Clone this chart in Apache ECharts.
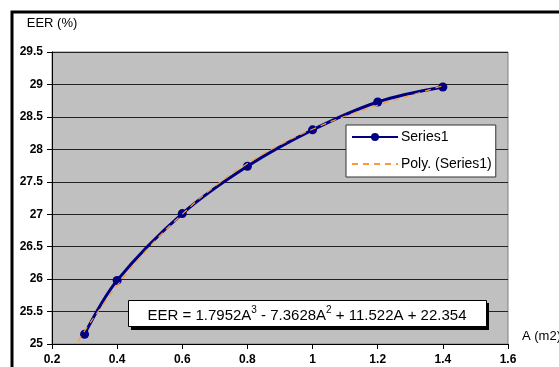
<!DOCTYPE html>
<html>
<head>
<meta charset="utf-8">
<script src="https://cdn.jsdelivr.net/npm/echarts@6/dist/echarts.min.js"></script>
<style>
html,body{margin:0;padding:0;background:#fff;}
#chart{width:559px;height:367px;}
</style>
</head>
<body>
<div id="chart"></div>
<script>
// Data
var areaA = [0.3, 0.4, 0.6, 0.8, 1.0, 1.2, 1.4];
var eerValues = [25.15, 25.98, 27.01, 27.74, 28.3, 28.73, 28.96];
var trendA = [0.28, 0.3, 0.35, 0.4, 0.5, 0.6, 0.7, 0.8, 0.9, 1.0, 1.1, 1.2, 1.3, 1.4];
var trendEER = [25.04, 25.2, 25.56, 25.9, 26.5, 27.0, 27.43, 27.78, 28.07, 28.31, 28.51, 28.68, 28.83, 28.98];
var seriesNames = ['Series1', 'Poly. (Series1)'];
var yAxisTitle = 'EER (%)';
var xAxisTitle = 'A (m2)';

var font = '"Liberation Sans", Arial, sans-serif';
var chart = echarts.init(document.getElementById('chart'), null, {renderer: 'canvas'});

var seriesData = areaA.map(function (a, i) { return [a, eerValues[i]]; });
var trendData = trendA.map(function (a, i) { return [a, trendEER[i]]; });

chart.setOption({
  animation: false,
  backgroundColor: '#fff',
  textStyle: {fontFamily: font},
  grid: {
    left: 52, top: 52, right: 51, bottom: 23,
    outerBoundsMode: 'none',
    containLabel: false,
    show: true, backgroundColor: '#C0C0C0', borderColor: '#808080', borderWidth: 1
  },
  legend: {
    data: [
      {name: seriesNames[0]},
      {name: seriesNames[1], itemStyle: {color: 'rgba(0,0,0,0)', borderColor: 'rgba(0,0,0,0)', borderWidth: 0}}
    ],
    orient: 'vertical',
    left: 346, top: 125,
    padding: [5, 4, 6, 5],
    itemGap: 13,
    itemWidth: 46,
    itemHeight: 10,
    backgroundColor: '#fff',
    borderColor: '#333',
    borderWidth: 1,
    textStyle: {fontFamily: font, fontSize: 14, color: '#000', padding: [0, 0, 0, -2]}
  },
  xAxis: {
    type: 'value', min: 0.2, max: 1.6, interval: 0.2,
    name: xAxisTitle, nameLocation: 'end', nameGap: 14,
    nameTextStyle: {fontFamily: font, fontSize: 13, color: '#000', verticalAlign: 'bottom', padding: [0, 0, 1, 0], align: 'left'},
    axisLine: {show: true, onZero: false, lineStyle: {color: '#000', width: 1}},
    axisTick: {show: true, inside: false, length: 5, lineStyle: {color: '#000'}},
    axisLabel: {fontFamily: font, fontSize: 12, fontWeight: 'bold', color: '#000', margin: 10},
    splitLine: {show: false}
  },
  yAxis: {
    type: 'value', min: 25, max: 29.5, interval: 0.5,
    name: yAxisTitle, nameLocation: 'end', nameGap: 22,
    nameTextStyle: {fontFamily: font, fontSize: 13, color: '#000'},
    axisLine: {show: true, onZero: false, lineStyle: {color: '#000', width: 1}},
    axisTick: {show: true, inside: false, length: 5, lineStyle: {color: '#000'}},
    axisLabel: {fontFamily: font, fontSize: 12, fontWeight: 'bold', color: '#000', margin: 9},
    splitLine: {show: true, lineStyle: {color: '#222', width: 1}}
  },
  series: [
    {
      name: seriesNames[0], type: 'line', data: seriesData, smooth: 0.35,
      symbol: 'circle', symbolSize: 9,
      lineStyle: {color: '#000080', width: 3},
      itemStyle: {color: '#000080'},
      z: 2
    },
    {
      name: seriesNames[1], type: 'line', data: trendData, smooth: true,
      symbol: 'none',
      lineStyle: {color: '#FF9933', width: 1.2, type: [6, 5]},
      itemStyle: {color: '#FF9933'},
      z: 3
    }
  ],
  graphic: [
    {
      type: 'rect', z: 100,
      shape: {x: 12, y: 12, width: 700, height: 500},
      style: {fill: 'none', stroke: '#000', lineWidth: 3}
    },
    {
      type: 'rect', z: 100,
      shape: {x: 131, y: 303, width: 358, height: 27},
      style: {fill: '#000'}
    },
    {
      type: 'rect', z: 101,
      shape: {x: 128.5, y: 300.5, width: 358, height: 26},
      style: {fill: '#fff', stroke: '#000', lineWidth: 1}
    },
    {
      type: 'text', z: 102,
      x: 307, y: 314,
      style: {
        text: '{a|EER = 1.7952A}{s|3}{a| - 7.3628A}{s|2}{a| + 11.522A + 22.354}',
        textAlign: 'center', textVerticalAlign: 'middle',
        rich: {
          a: {fontFamily: font, fontSize: 15, color: '#000', lineHeight: 18, verticalAlign: 'bottom'},
          s: {fontFamily: font, fontSize: 10, color: '#000', lineHeight: 10, verticalAlign: 'top'}
        }
      }
    }
  ]
});
</script>
</body>
</html>
